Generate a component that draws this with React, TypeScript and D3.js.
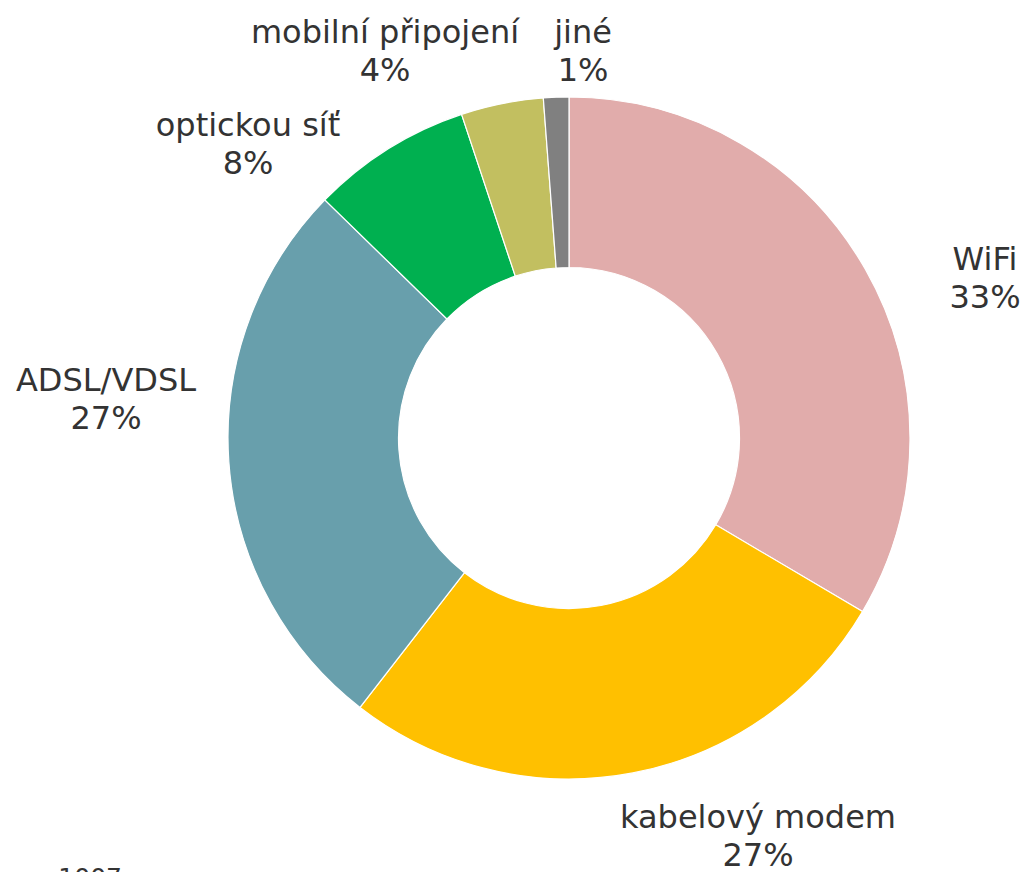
import React from "react";
import * as d3 from "d3";

const categories = ["WiFi", "kabelový modem", "ADSL/VDSL", "optickou síť", "mobilní připojení", "jiné"];
const values = [33.5, 27.0, 26.8, 7.6, 3.9, 1.2];
const percentLabels = ["33%", "27%", "27%", "8%", "4%", "1%"];
const colors = ["#E1ACAB", "#FFC000", "#689FAC", "#00B050", "#C2BF60", "#808080"];
// label positions relative to the pie centre: [centre x, first baseline y] (layout, not data)
const labelOffsets: [number, number][] = [
  [416, -168],
  [189, 390],
  [-463, -47],
  [-321, -302],
  [-184, -395],
  [14, -395],
];
const footnote = "n = 1007";

const W = 1024;
const H = 872;
const cx = 569;
const cy = 438;
const outerR = 341;
const innerR = 170.5;
const fontSize = 32;
const lineGap = 38;

export default function App() {
  const pie = d3
    .pie<number>()
    .sort(null)
    .value((d) => d)
    .startAngle(0)
    .endAngle(2 * Math.PI);
  const arcs = pie(values);
  const arc = d3.arc<d3.PieArcDatum<number>>().innerRadius(innerR).outerRadius(outerR);

  return (
    <svg
      width={W}
      height={H}
      style={{ position: "absolute", left: 0, top: 0, background: "#fff" }}
      fontFamily="'DejaVu Sans', Verdana, sans-serif"
    >
      <g transform={`translate(${cx},${cy})`}>
        {arcs.map((a, i) => (
          <path key={i} d={arc(a) || ""} fill={colors[i]} stroke="#fff" strokeWidth={1.2} />
        ))}
        {arcs.map((a, i) => {
          const [dx, by] = labelOffsets[i];
          return (
            <text key={"l" + i} x={dx} y={by} textAnchor="middle" fontSize={fontSize} fill="#333">
              <tspan x={dx} y={by}>{categories[i]}</tspan>
              <tspan x={dx} y={by + lineGap}>{percentLabels[i]}</tspan>
            </text>
          );
        })}
      </g>
      <text x={122} y={886} textAnchor="end" fontSize={25} fill="#333">
        {footnote}
      </text>
    </svg>
  );
}
